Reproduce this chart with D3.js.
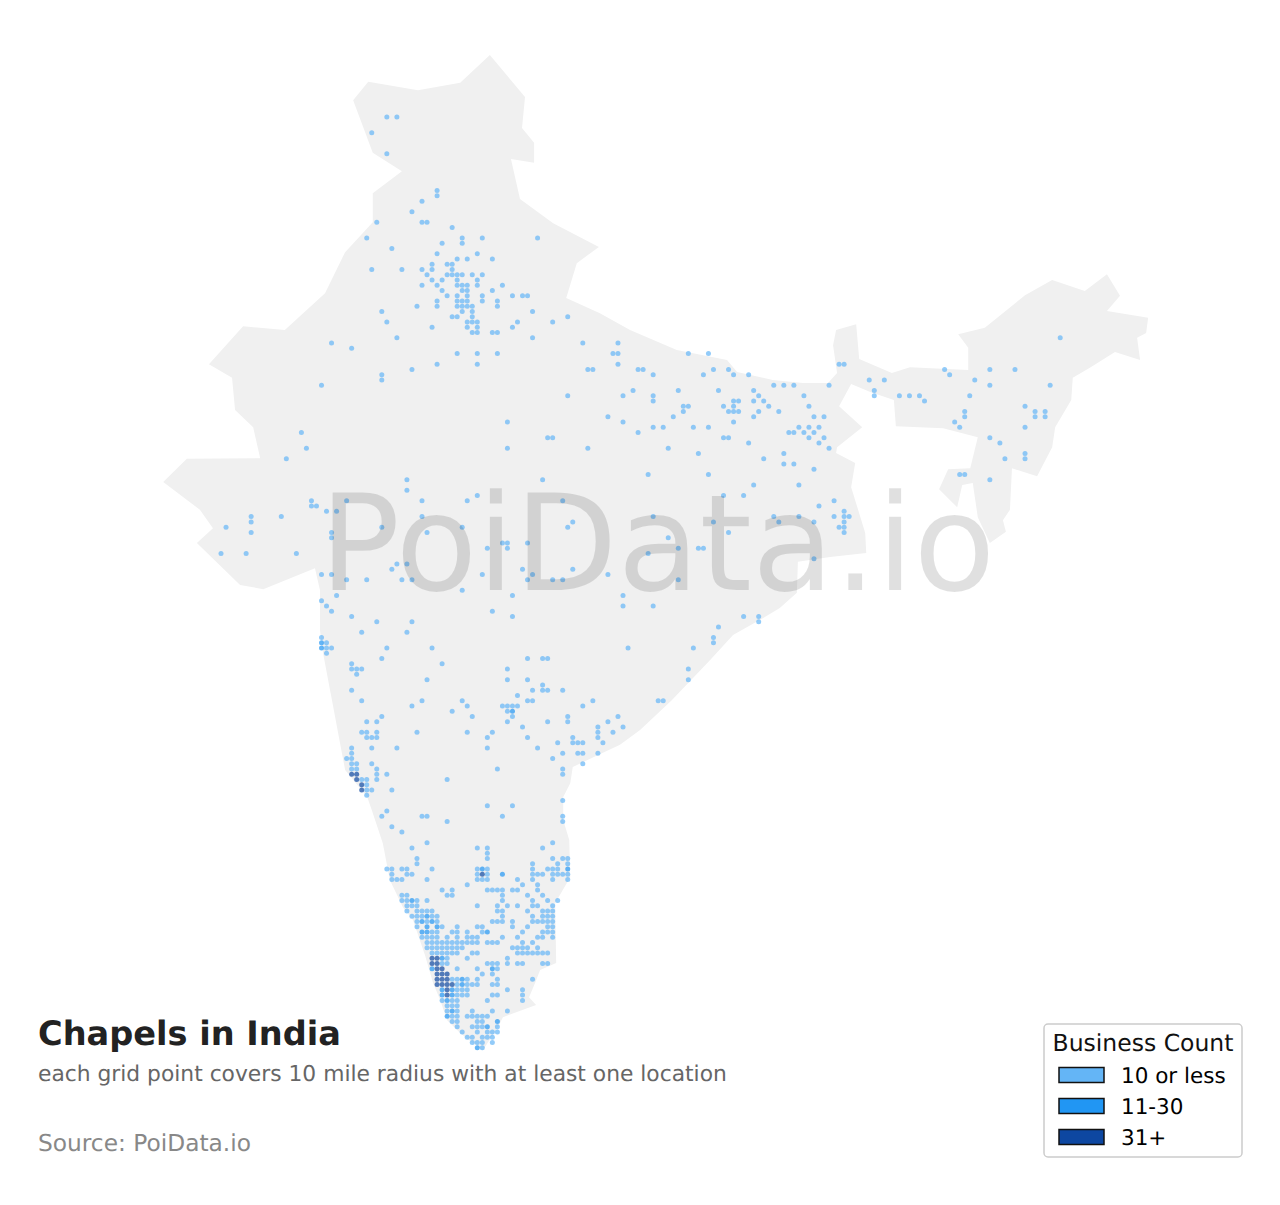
<!DOCTYPE html>
<html>
<head>
<meta charset="utf-8">
<title>Chapels in India</title>
<script src="https://cdn.jsdelivr.net/npm/d3@7"></script>
<style>
    html, body { margin: 0; padding: 0; background: #fff; }
    svg { display: block; }
    text { font-family: "DejaVu Sans", sans-serif; text-rendering: geometricPrecision; }
</style>
</head>
<body>
<div id="chart"></div>
<script>
// all positions are in grid cells, one cell = one 10 mile grid point
var outlineCols = [53.5,60.5,59.9,62.3,62.3,57.7,59.5,66.1,75.2,70.8,68.7,75.4,81.4,90.7,100.7,102.7,109.8,115.8,120.8,122.6,121.8,122.4,126.4,127.0,133.5,137.1,148.7,148.7,146.7,152.0,160.0,165.4,171.9,176.3,178.9,176.3,184.5,184.1,182.3,182.9,177.9,172.9,169.5,169.2,166.0,165.4,162.4,157.4,157.0,155.6,156.2,153.0,150.6,149.6,147.5,146.5,142.9,144.7,149.1,150.6,143.7,134.3,133.9,129.2,125.4,123.0,127.6,122.6,122.4,126.2,125.4,128.2,128.4,121.2,114.8,114.6,111.2,107.9,101.9,97.3,89.7,83.4,79.4,70.0,69.5,68.1,68.1,69.3,69.5,66.5,66.7,63.5,62.5,61.3,62.7,56.1,55.1,52.1,50.1,47.6,45.0,43.6,42.2,40.6,38.2,36.2,33.6,32.2,30.0,29.1,24.7,20.3,19.7,19.7,18.7,8.4,3.8,-4.8,-1.6,-4.2,-11.5,-6.8,7.8,6.4,2.8,2.2,-2.4,4.4,12.7,20.7,24.7,30.2,30.2,36.0,30.2,26.3,29.3,39.2,47.6];
var outlineRows = [-11.8,-3.8,2.1,4.9,8.7,8.0,15.6,20.2,24.7,27.8,34.4,37.3,40.5,44.3,46.2,48.5,50.0,50.6,50.6,48.7,43.4,40.5,39.4,46.0,48.7,47.6,48.1,43.9,41.3,40.1,33.9,31.0,33.1,29.9,34.0,36.9,38.2,41.1,42.0,46.2,44.7,47.7,49.6,53.8,59.0,62.8,68.3,66.8,74.7,76.7,78.9,81.0,76.1,69.6,70.0,74.2,70.8,67.0,66.8,60.9,59.2,58.8,53.8,52.3,50.8,55.0,59.0,62.8,63.9,65.8,70.4,79.1,82.9,83.7,84.6,90.5,93.4,95.3,98.5,103.3,110.9,116.6,119.4,123.6,126.7,129.3,133.7,137.5,144.6,149.5,160.9,162.2,164.7,167.4,168.9,171.2,173.1,177.5,176.1,174.2,171.8,167.9,164.7,159.4,152.7,150.3,145.1,138.1,131.8,129.3,124.2,101.9,97.6,90.0,85.8,89.8,89.0,81.0,78.2,74.7,69.4,65.0,64.9,59.0,55.7,49.6,47.0,39.8,40.5,33.5,25.7,20.0,14.5,10.3,6.8,-3.2,-6.7,-5.1,-6.5];

// [row, columns] of grid points with 10 or less
var lowPoints = [
    [0,[33,35]],[3,[30]],[7,[33]],[14,[43]],[15,[43]],[16,[40]],[18,[38]],[20,[31,40,41]],[21,[46]],
    [23,[29,48,52,63]],[24,[44,48]],[25,[34]],[26,[43,51]],[27,[47,49,54]],[28,[42,45,46]],
    [29,[30,36,40,42,46]],[30,[41,45,46,47,48,50,52]],[31,[42,44,47,51]],[32,[40,43,47,48,49,51,56]],
    [33,[44,48,49,54]],[34,[45,47,49,52,58,60,61]],[35,[43,47,48,49,52,55]],[36,[39,43,47,48,49,50,55]],
    [37,[32,48,50,62]],[38,[46,47,50,69]],[39,[33,49,50,51,59,66]],[40,[42,49,51,58]],[41,[50,51,54,55]],
    [42,[35,62,167]],[43,[22,72,79]],[44,[26]],[45,[47,51,55,78,79,93,97]],[47,[43,51,79,123,124]],
    [48,[38,73,74,83,84,98,101,144,153,158]],[49,[32,86,96,102,105,145]],[50,[32,129,132,150]],
    [51,[20,110,112,114,121,153,165]],[52,[82,91,99,106,130]],[53,[69,80,86,107,116,130,135,137,139,149]],
    [54,[86,102,103,106,108,140]],[55,[92,93,100,102,109,117,160]],[56,[92,101,102,103,107,111,148,162,164]],
    [57,[77,90,106,118,120,148,162,164]],[58,[57,80,102,146]],[59,[86,88,94,97,115,117,119,147,160]],
    [60,[16,83,113,114,116,118]],[61,[65,66,100,101,117,120,153]],[62,[105,119,155]],[63,[17,57,73,89,121]],
    [64,[95,112,160]],[65,[13,108,156,160]],[66,[112,114]],[67,[118]],[68,[85,97,147,148]],[69,[37,64,153]],
    [70,[106,115]],[71,[37]],[72,[51,100,104]],[73,[18,25,40,49,68,122]],[74,[18,19,119]],[75,[21,23,124]],
    [76,[6,12,40,86,110,115,122,124,125]],[77,[6,70,98,111,118,124]],[78,[1,32,48,69,123,124]],
    [79,[6,22,41,101,124]],[80,[22,89]],[81,[56,57,61]],[82,[53,57,91,95,96]],[83,[0,5,15,85]],[84,[118]],
    [85,[35,37]],[86,[34,60,70]],[87,[20,22,52,62,77]],[88,[25,29,36,38,61,66,68,91]],[90,[48]],[91,[23,58,80]],
    [92,[20]],[93,[21,80,86]],[94,[22,54]],[95,[26,58,104,107]],[96,[31,38,107]],[97,[99]],[98,[28,37]],
    [99,[20,98]],[100,[21,98]],[101,[21,22,33,42,81,94]],[102,[21]],[103,[32,61,64,65]],[104,[26,44]],
    [105,[26,27,28,57,93]],[106,[27]],[107,[41,57,61,93]],[108,[64]],[109,[26,62,64,65,68]],[110,[59]],
    [111,[28,40,48,61,62,74,87,88]],[112,[38,49,56,57,58,59,72]],[113,[46,57]],[114,[32,50,58,69,79]],
    [115,[29,31,57,65,69,77]],[116,[60,75,80]],[117,[28,29,31,39,49,54,75,78]],[118,[29,30,31,53,61,70,75]],
    [119,[67,70,71,72,76]],[120,[26,30,35,53,63]],[121,[26,68,71,72,75]],[122,[25,26,66]],[123,[26,27,30,72]],
    [124,[26,27,31,55,68]],[125,[31,33,68]],[126,[28,29,31,45]],[127,[29]],[128,[29,30,34]],[129,[29]],
    [130,[68]],[131,[53,58]],[132,[33]],[133,[32,40,41,56,68]],[134,[45,68]],[135,[34]],[136,[36]],
    [138,[41,66]],[139,[38,51,53,64]],[140,[53]],[141,[39,53,66,68,69]],[142,[39,62,67,69]],
    [143,[33,34,36,37,42,51,53,62,65,66,67]],[144,[34,37,38,51,53,62,63,64,66,67,68,69]],
    [145,[34,35,36,41,51,52,53,59,62,66,69]],[146,[49,60,63]],[147,[44,46,53,54,55,56,58,59,63]],
    [148,[36,37,45,46,56,61,64]],[149,[36,37,39,41,56,62,65,67]],[150,[37,38,39,51,55,57,59,62,63,66]],
    [151,[37,39,40,41,42,55,56,61,64,65,66]],[152,[38,39,40,42,43,56,62,64,65,66]],
    [153,[39,41,43,54,55,56,58,62,63,64,65,66]],[154,[39,44,47,51,52,58,61,65,66]],
    [155,[42,43,46,47,49,52,60,64,65,66]],[156,[40,41,42,43,45,47,49,50,51,56,59,63,64,66]],
    [157,[41,42,43,44,45,46,47,48,49,50,51,53,54,55,60,62]],[158,[41,42,43,44,45,46,47,48,58,59,60,61,63]],
    [159,[42,43,44,45,46,47,50,51,59,60,61,62,63,64,65]],[160,[45,49,57]],[161,[44,45,53,54,55,57,59,60,64,65]],
    [162,[47,51,55]],[163,[52,54]],[164,[46,47,49,51,55,62]],[165,[47,49,50,51,54,55]],[166,[47,48,49,57,60]],
    [167,[47,48,49,54,55,60]],[168,[44,46,47,53,60]],[169,[45,46,47]],[170,[45,47,50,54,57]],
    [171,[46,47,49,50,51,52,53]],[172,[46,47,51,52]],[173,[47,50,51,52,55]],[174,[48,51,53,54,55]],
    [175,[49,50,52,53,54]],[176,[50,51,52,54]],[177,[52]]
];
// 11-30
var midPoints = [
    [100,[20]],[101,[20]],[113,[58]],[143,[52,69]],[144,[56]],[149,[38]],[152,[41]],[153,[40,42]],[154,[41,43]],
    [155,[40,41,53]],[160,[44]],[162,[42,54]],[164,[48]],[165,[48]],[166,[44,46]],[167,[44,46]],[168,[45]],
    [170,[46]],[171,[45]],[172,[55]],[173,[53]],[177,[51]]
];
// 31+
var highPoints = [
    [125,[26,27]],[126,[27]],[127,[28]],[128,[28]],[144,[52]],[160,[42,43]],[161,[42,43]],[162,[43,44]],
    [163,[43,44,45]],[164,[43,44,45]],[165,[43,44,45,46]],[166,[45]],[167,[45]]
];

var legendLabels = ['10 or less', '11-30', '31+'];
var legendColors = ['#64b5f6', '#2196f3', '#0d47a1'];

var width = 1280, height = 1205;

var x = d3.scaleLinear().domain([0, 167]).range([221, 1060.2]);
var y = d3.scaleLinear().domain([0, 177]).range([117, 1047.7]);

var svg = d3.select('#chart').append('svg')
    .attr('width', width)
    .attr('height', height);

var outline = d3.line()
    .x(function(d) { return x(d[0]); })
    .y(function(d) { return y(d[1]); })
    .curve(d3.curveLinearClosed);

svg.append('path')
    .attr('d', outline(d3.zip(outlineCols, outlineRows)))
    .attr('fill', '#f0f0f0');

function expand(rows) {
    var out = [];
    rows.forEach(function(r) {
        r[1].forEach(function(c) { out.push([c, r[0]]); });
    });
    return out;
}

[lowPoints, midPoints, highPoints].forEach(function(rows, i) {
    svg.append('g').selectAll('circle')
        .data(expand(rows))
        .enter().append('circle')
        .attr('cx', function(d) { return x(d[0]); })
        .attr('cy', function(d) { return y(d[1]); })
        .attr('r', 2.5)
        .attr('fill', legendColors[i])
        .attr('fill-opacity', 0.7);
});

// watermark sits over the dots
svg.append('text')
    .attr('x', 657.5)
    .attr('y', 590)
    .attr('text-anchor', 'middle')
    .attr('font-size', 133.8)
    .attr('fill', '#000')
    .attr('fill-opacity', 0.12)
    .text('PoiData.io');

svg.append('text')
    .attr('x', 38).attr('y', 1045)
    .attr('font-size', 33.6)
    .attr('font-weight', 'bold')
    .attr('fill', '#222')
    .text('Chapels in India');

svg.append('text')
    .attr('x', 38).attr('y', 1081)
    .attr('font-size', 21.8)
    .attr('fill', '#666')
    .text('each grid point covers 10 mile radius with at least one location');

svg.append('text')
    .attr('x', 38).attr('y', 1151)
    .attr('font-size', 23.3)
    .attr('fill', '#888')
    .text('Source: PoiData.io');

// legend
var legend = svg.append('g');

legend.append('rect')
    .attr('x', 1044).attr('y', 1024)
    .attr('width', 198).attr('height', 133)
    .attr('rx', 4)
    .attr('fill', '#fff')
    .attr('stroke', '#ccc')
    .attr('stroke-width', 1.5);

legend.append('text')
    .attr('x', 1143).attr('y', 1051)
    .attr('text-anchor', 'middle')
    .attr('font-size', 23.5)
    .attr('fill', '#111')
    .text('Business Count');

var rowY = d3.scalePoint().domain(legendLabels).range([1075, 1137]);

legendLabels.forEach(function(label, i) {
    legend.append('rect')
        .attr('x', 1059).attr('y', rowY(label) - 7.5)
        .attr('width', 45).attr('height', 15)
        .attr('fill', legendColors[i])
        .attr('stroke', '#111')
        .attr('stroke-width', 1.5);
    legend.append('text')
        .attr('x', 1121).attr('y', rowY(label) + 8)
        .attr('font-size', 21.5)
        .attr('fill', '#000')
        .text(label);
});
</script>
</body>
</html>
